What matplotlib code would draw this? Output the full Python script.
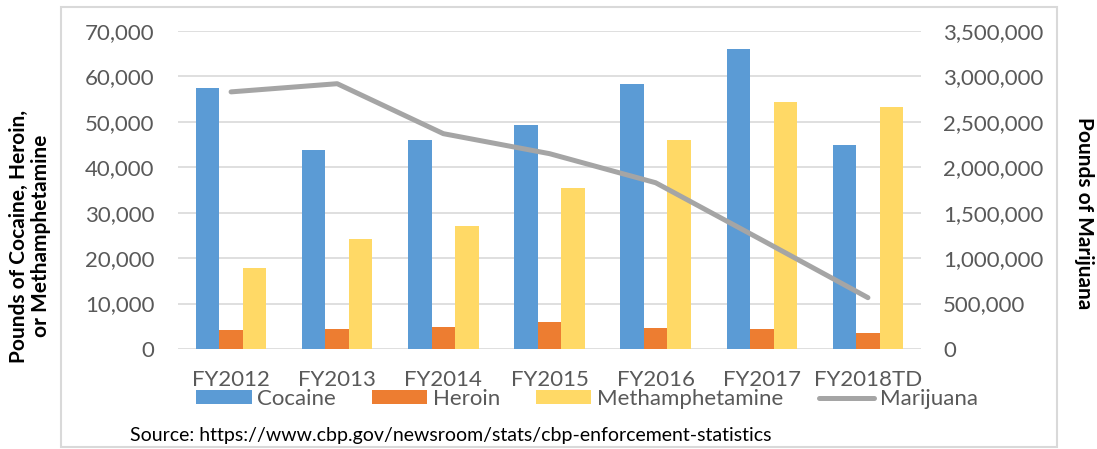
import matplotlib
matplotlib.use("Agg")
import matplotlib.pyplot as plt
import numpy as np
from matplotlib.patches import Rectangle
from matplotlib.ticker import FuncFormatter

years = ["FY2012", "FY2013", "FY2014", "FY2015", "FY2016", "FY2017", "FY2018TD"]
cocaine = [57400, 43800, 45900, 49300, 58300, 66000, 44800]
heroin = [4100, 4500, 4800, 5900, 4600, 4500, 3600]
meth = [17800, 24200, 27100, 35400, 46000, 54400, 53300]
marijuana = [2830000, 2920000, 2370000, 2150000, 1830000, 1200000, 565000]

plt.rcParams['font.family'] = ['Liberation Sans Narrow', 'Lato', 'DejaVu Sans']

fig = plt.figure(figsize=(10.97, 4.49), dpi=100)
W, H = 1097, 449
ax = fig.add_axes([178 / W, 1 - 349 / H, (921 - 178) / W, (349 - 31) / H])
ax2 = ax.twinx()

x = np.arange(len(years))
bw = 0.221
c_coc, c_her, c_met, c_mar = "#5B9BD5", "#ED7D31", "#FFD966", "#A5A5A5"
b1 = ax.bar(x - bw, cocaine, bw, color=c_coc, label="Cocaine", zorder=3)
b2 = ax.bar(x, heroin, bw, color=c_her, label="Heroin", zorder=3)
b3 = ax.bar(x + bw, meth, bw, color=c_met, label="Methamphetamine", zorder=3)
l1, = ax2.plot(x, marijuana, color=c_mar, lw=3.6, label="Marijuana", solid_capstyle="round")

ax.set_xlim(-0.5, len(years) - 0.5)
ax.set_ylim(0, 70000)
ax2.set_ylim(0, 3500000)
ax.set_yticks(np.arange(0, 70001, 10000))
ax2.set_yticks(np.arange(0, 3500001, 500000))
fmt = FuncFormatter(lambda v, p: f"{int(v):,}")
ax.yaxis.set_major_formatter(fmt)
ax2.yaxis.set_major_formatter(fmt)
ax.set_xticks(x)
ax.set_xticklabels(years)

gc = "#595959"
FS = 16
for a in (ax, ax2):
    for s in a.spines.values():
        s.set_visible(False)
    a.tick_params(length=0, labelsize=FS, labelcolor=gc)
ax.tick_params(axis='y', pad=17)
ax2.tick_params(axis='y', pad=16)
ax.tick_params(axis='x', pad=15)
ax.grid(axis='y', color="#D9D9D9", lw=1.2, zorder=0)
ax.set_axisbelow(True)

fig.text(30 / W, 1 - 236 / H, "Pounds of Cocaine, Heroin,\nor Methamphetamine", rotation=90,
         ha='center', va='center', fontsize=15, fontweight='bold', color='black', linespacing=1.1)
fig.text(1084 / W, 1 - 213 / H, "Pounds of Marijuana", rotation=270,
         ha='center', va='center', fontsize=15, fontweight='bold', color='black')

leg = fig.legend([b1, b2, b3, l1], ["Cocaine", "Heroin", "Methamphetamine", "Marijuana"],
                 loc='center', bbox_to_anchor=(587 / W, 1 - 399 / H), ncol=4, frameon=False,
                 fontsize=FS, handlelength=2.5, handleheight=0.6, handletextpad=0.25,
                 columnspacing=1.6, borderpad=0)
for t in leg.get_texts():
    t.set_color(gc)

fig.text(130 / W, 1 - 436 / H, "Source: https://www.cbp.gov/newsroom/stats/cbp-enforcement-statistics",
         ha='left', va='center', fontsize=14, color='black')

fig.patches.append(Rectangle((61 / W, 1 - 447 / H), (1057 - 61) / W, (447 - 7) / H,
                             transform=fig.transFigure, fill=False, edgecolor="#D9D9D9", lw=1.5))

fig.savefig("out.png", dpi=100)
